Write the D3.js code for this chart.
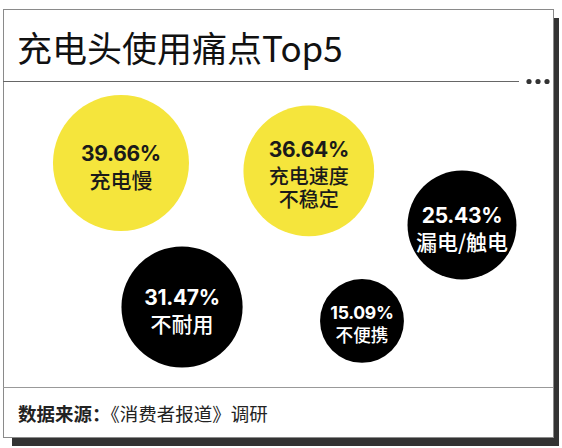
<!DOCTYPE html>
<html>
<head>
<meta charset="utf-8">
<script src="https://cdn.jsdelivr.net/npm/d3@7/dist/d3.min.js"></script>
<style>
  html, body { margin: 0; padding: 0; background: #fff; }
  svg { display: block; }
</style>
</head>
<body>
<div id="chart"></div>
<script>
// ---- data ----
const titleText = "充电头使用痛点Top5";
const sourceLabel = "数据来源：";
const sourceText = "《消费者报道》调研";
const categories = [["充电慢"], ["充电速度", "不稳定"], ["不耐用"], ["漏电/触电"], ["不便携"]];
const values = [39.66, 36.64, 31.47, 25.43, 15.09];
const valueLabels = ["39.66%", "36.64%", "31.47%", "25.43%", "15.09%"];
// bubble anchors in the plot area (fractions of width / height)
const anchorX = [0.2145, 0.556, 0.3255, 0.8345, 0.6527];
const anchorY = [0.268, 0.294, 0.7386, 0.4706, 0.784];

const W = 562, H = 448;
const card = { x: 3, y: 9, w: 550, h: 428 };
const headerY = 81, footerY = 387;
const yellow = "#f5e53c";
const fontCJK = "'Noto Sans CJK SC', 'Noto Sans', sans-serif";
const fontNum = "Inter, 'Noto Sans CJK SC', sans-serif";

const svg = d3.select("#chart").append("svg")
  .attr("width", W).attr("height", H);

// shadow
svg.append("rect")
  .attr("x", card.x + 9).attr("y", card.y + 9)
  .attr("width", card.w - 3).attr("height", card.h)
  .attr("fill", "#333");
// card
svg.append("rect")
  .attr("x", card.x + 0.5).attr("y", card.y + 0.5)
  .attr("width", card.w).attr("height", card.h)
  .attr("fill", "#fff").attr("stroke", "#8a8a8a").attr("stroke-width", 1);

// title
svg.append("text")
  .attr("x", 17).attr("y", 46)
  .attr("dominant-baseline", "central")
  .attr("font-family", fontCJK).attr("font-size", 35)
  .attr("fill", "#111")
  .text(titleText);

// header line + dots
svg.append("line")
  .attr("x1", card.x).attr("x2", 519)
  .attr("y1", headerY + 0.5).attr("y2", headerY + 0.5)
  .attr("stroke", "#666").attr("stroke-width", 1);
svg.selectAll("circle.dot").data([0, 1, 2]).join("circle")
  .attr("class", "dot")
  .attr("cx", d => 529 + d * 9).attr("cy", headerY + 0.5).attr("r", 2.6)
  .attr("fill", "#333");

// footer line
svg.append("line")
  .attr("x1", card.x).attr("x2", card.x + card.w)
  .attr("y1", footerY + 0.5).attr("y2", footerY + 0.5)
  .attr("stroke", "#999").attr("stroke-width", 1);

// footer text
const ft = svg.append("text")
  .attr("x", 18).attr("y", 413)
  .attr("dominant-baseline", "central")
  .attr("font-family", fontCJK).attr("font-size", 18.5)
  .attr("fill", "#222");
ft.append("tspan").attr("font-weight", 700).text(sourceLabel);
ft.append("tspan").attr("font-weight", 400).text(sourceText);

// scales
const x = d3.scaleLinear().domain([0, 1]).range([card.x, card.x + card.w]);
const y = d3.scaleLinear().domain([0, 1]).range([headerY, footerY]);
const r = d3.scaleSqrt().domain([0, d3.max(values)]).range([0, 68]);

const data = values.map((v, i) => ({
  v, label: valueLabels[i], cat: categories[i], ax: anchorX[i], ay: anchorY[i], rank: i
}));

const g = svg.selectAll("g.bubble").data(data).join("g")
  .attr("class", "bubble")
  .attr("transform", d => `translate(${x(d.ax)},${y(d.ay)})`);

g.append("circle")
  .attr("r", d => r(d.v))
  .attr("fill", d => d.rank < 2 ? yellow : "#000");

g.each(function(d) {
  const sel = d3.select(this);
  const s = r(d.v) < 50 ? 0.84 : 1;
  const n = d.cat.length;
  const lblSize = (n > 1 ? 20 : 21) * s;
  const gapPct = 26 * s, gapLbl = 22.5 * s;
  const top = 3 - (gapPct + gapLbl * (n - 1)) / 2;
  const col = d.rank < 2 ? "#1a1a1a" : "#fff";
  sel.append("text")
    .attr("y", top)
    .attr("text-anchor", "middle").attr("dominant-baseline", "central")
    .attr("font-family", fontNum).attr("font-weight", 700)
    .attr("font-size", 21 * s).attr("fill", col)
    .attr("letter-spacing", -0.3)
    .text(d.label);
  d.cat.forEach((c, j) => {
    sel.append("text")
      .attr("y", top + gapPct + gapLbl * j)
      .attr("text-anchor", "middle").attr("dominant-baseline", "central")
      .attr("font-family", fontCJK).attr("font-weight", 500)
      .attr("font-size", lblSize).attr("fill", col)
      .text(c);
  });
});
</script>
</body>
</html>
